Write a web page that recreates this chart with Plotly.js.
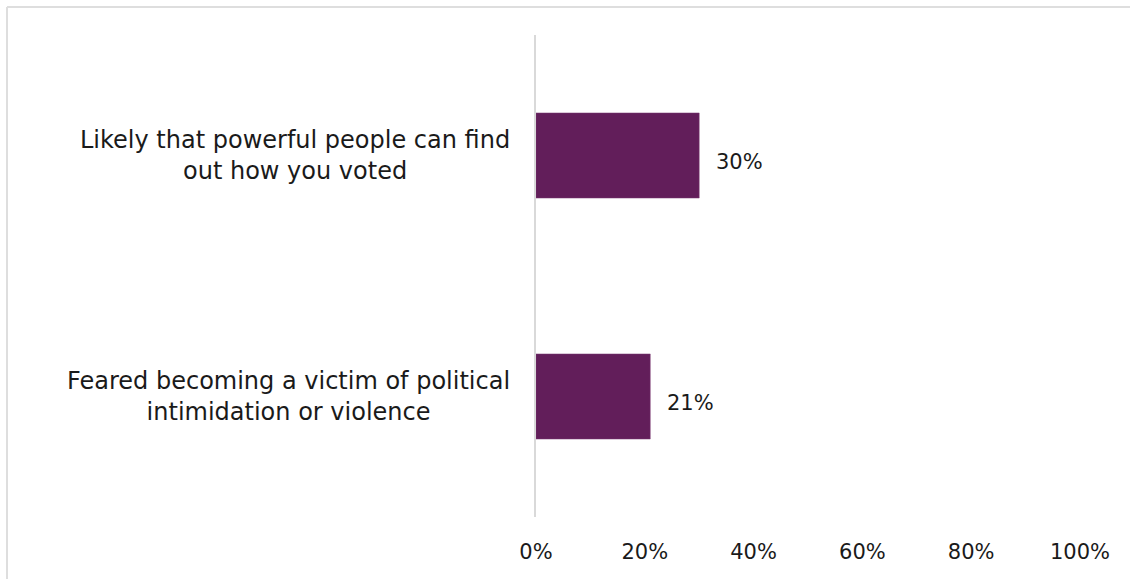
<!DOCTYPE html>
<html>
<head>
<meta charset="utf-8">
<script src="https://cdn.plot.ly/plotly-3.0.1.min.js"></script>
<style>
  html, body { margin: 0; padding: 0; background: #fff; overflow: hidden; }
  #chart { width: 1130px; height: 579px; }
</style>
</head>
<body>
<div id="chart"></div>
<script>
const categories = [
  "Likely that powerful people can find<br>out how you voted",
  "Feared becoming a victim of political<br>intimidation or violence"
];
const values = [30, 21];
const valueLabels = ["30%", "21%"];
const tickValues = [0, 20, 40, 60, 80, 100];
const tickLabels = ["0%", "20%", "40%", "60%", "80%", "100%"];

const FONT = "DejaVu Sans, sans-serif";
const TXT = "#1a1a1a";
const BAR = "#621E5A";

const trace = {
  type: "bar",
  orientation: "h",
  x: values,
  y: categories,
  width: 0.353,
  marker: { color: BAR, line: { color: "#7a3a72", width: 0.5 } },
  hoverinfo: "skip"
};

const annotations = [];
categories.forEach((c, i) => {
  annotations.push({
    xref: "paper", yref: "y", x: 0, y: c, text: c,
    xanchor: "right", yanchor: "middle", align: "center",
    xshift: -24, showarrow: false,
    font: { family: FONT, size: 24, color: TXT }
  });
  annotations.push({
    xref: "x", yref: "y", x: values[i], y: c, text: valueLabels[i],
    xanchor: "left", yanchor: "middle", xshift: 15, yshift: -6, showarrow: false,
    font: { family: FONT, size: 21, color: TXT }
  });
});

// outer frame (left and top edges only visible in the reference)
const W = 1130, H = 579, ML = 536, MR = 50, MT = 35, MB = 62;
const pw = W - ML - MR, ph = H - MT - MB;
const fx = (7 - ML) / pw, fy = (H - MB - 7) / ph;
const shapes = [
  { type: "line", xref: "paper", yref: "paper", x0: fx, x1: fx, y0: -0.5, y1: fy, line: { color: "#dedede", width: 2 } },
  { type: "line", xref: "paper", yref: "paper", x0: fx, x1: 1.5, y0: fy, y1: fy, line: { color: "#dedede", width: 2 } }
];

const layout = {
  width: W, height: H,
  margin: { l: ML, r: MR, t: MT, b: MB },
  paper_bgcolor: "#ffffff",
  plot_bgcolor: "rgba(0,0,0,0)",
  showlegend: false,
  bargap: 0,
  xaxis: {
    range: [0, 100], tickvals: tickValues, ticktext: tickLabels,
    showgrid: false, zeroline: false, showline: false,
    ticks: "outside", ticklen: 16, tickcolor: "rgba(0,0,0,0)",
    tickfont: { family: FONT, size: 21, color: TXT },
    fixedrange: true
  },
  yaxis: {
    type: "category", autorange: "reversed",
    showticklabels: false, showgrid: false, zeroline: false,
    showline: true, linecolor: "#d9d9d9", linewidth: 2,
    fixedrange: true
  },
  shapes: shapes,
  annotations: annotations
};

Plotly.newPlot("chart", [trace], layout, { displayModeBar: false, staticPlot: true });
</script>
</body>
</html>
